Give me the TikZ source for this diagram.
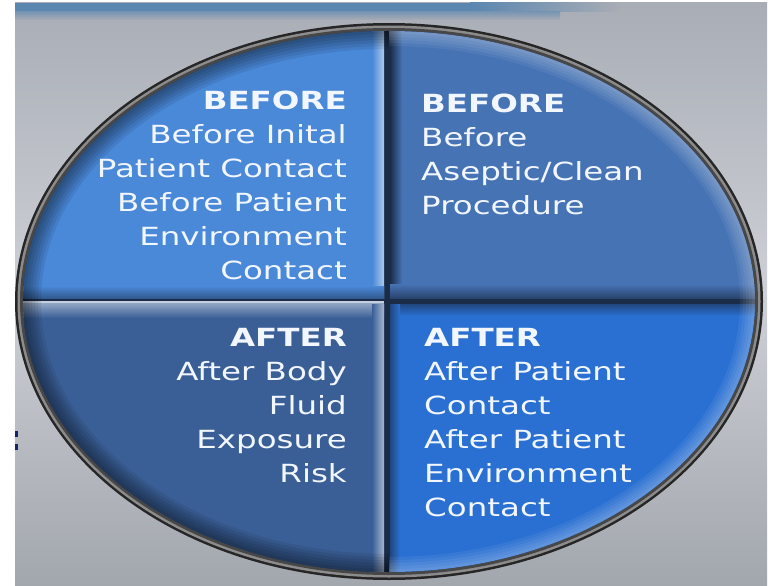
\documentclass[tikz,border=0pt]{standalone}
\usepackage{fontspec}
\setmainfont{DejaVu Sans}
\usepackage{graphicx}
\definecolor{bgtop}{HTML}{A9ADB5}
\definecolor{bgmid}{HTML}{CDD0D6}
\definecolor{bgbot}{HTML}{A2A6AD}
\definecolor{barblue}{HTML}{5A86B0}
\definecolor{qtl}{HTML}{4A88D8}
\definecolor{qtr}{HTML}{4673B4}
\definecolor{qbl}{HTML}{3A5F96}
\definecolor{qbr}{HTML}{2A70D2}
\definecolor{gapc}{HTML}{1A2C48}
\definecolor{txt}{HTML}{F2F6FF}
\tikzset{
  quadtext/.style={inner sep=0pt, text=txt, font=\fontsize{25}{34}\selectfont},
}
\newcommand{\qlines}[2]{\scalebox{1.3}[1]{\begin{tabular}[t]{@{}#1@{}}#2\end{tabular}}}
\begin{document}
\begin{tikzpicture}[x=1pt,y=-1pt]
\useasboundingbox (0,0) rectangle (771,586);
% background
\fill[white] (0,0) rectangle (771,586);
\shade[top color=bgtop, bottom color=bgbot, middle color=bgmid] (15,3) rectangle (767,586);
\fill[barblue] (15,3) rectangle (470,12);
\shade[left color=barblue, right color=bgtop] (470,3) rectangle (620,12);
\shade[top color=barblue!60!bgtop, bottom color=bgtop] (15,12) rectangle (560,20);
% colon fragment at left edge
\fill[gapc!80!blue] (15,431) rectangle (18,437);
\fill[gapc!80!blue] (15,444) rectangle (18,450);
% ring
\fill[black!85] (389,301.5) ellipse [x radius=374, y radius=278.5];
\fill[black!45] (389,301.5) ellipse [x radius=371.5, y radius=276];
\fill[black!72] (389,301.5) ellipse [x radius=369, y radius=273.5];
\fill[gapc] (389,301.5) ellipse [x radius=366, y radius=270.5];
\begin{scope}
  \clip (389,301.5) ellipse [x radius=366, y radius=270.5];
  % quadrants
  \fill[qtl] (0,0) rectangle (384,298);
  \fill[qtr] (390,0) rectangle (771,298);
  \fill[qbl] (0,304) rectangle (384,586);
  \fill[qbr] (390,304) rectangle (771,586);
  % divider highlights
  \shade[left color=qtl, right color=qtl!45!white] (372,0) rectangle (384,298);
  \shade[top color=qtl, bottom color=qtl!50!gapc] (0,286) rectangle (384,298);
  \shade[left color=gapc, right color=qtr] (390,0) rectangle (402,298);
  \shade[top color=qtr, bottom color=qtr!35!gapc] (390,284) rectangle (771,298);
  \fill[white!70!qbl] (0,301) rectangle (384,303);
  \shade[top color=qbl!55!white, bottom color=qbl] (0,303) rectangle (384,318);
  \shade[left color=qbl, right color=qbl!45!white] (372,304) rectangle (384,586);
  \shade[top color=qbr!40!gapc, bottom color=qbr] (390,304) rectangle (771,316);
  \shade[left color=qbr!40!gapc, right color=qbr] (390,304) rectangle (400,586);
  % rim vignette: dark on left, light on right
  \begin{scope}
    \clip (0,0) rectangle (389,586);
    \foreach \w in {6,12,18,24,30,36}
      \draw[black, opacity=0.08, line width=\w pt] (389,301.5) ellipse [x radius=366, y radius=270.5];
  \end{scope}
  \begin{scope}
    \clip (389,0) rectangle (771,586);
    \foreach \w in {6,12,18,24,30}
      \draw[white, opacity=0.06, line width=\w pt] (389,301.5) ellipse [x radius=366, y radius=270.5];
  \end{scope}
\end{scope}
% texts
\node[quadtext, anchor=base east] (tl) at (347,110)
  {\qlines{r}{\textbf{BEFORE}\\Before Inital\\Patient Contact\\Before Patient\\Environment\\Contact}};
\node[quadtext, anchor=base west] (tr) at (421,112)
  {\qlines{l}{\textbf{BEFORE}\\Before\\Aseptic/Clean\\Procedure}};
\node[quadtext, anchor=base east] (bl) at (347,346)
  {\qlines{r}{\textbf{AFTER}\\After Body\\Fluid\\Exposure\\Risk}};
\node[quadtext, anchor=base west] (br) at (424,346)
  {\qlines{l}{\textbf{AFTER}\\After Patient\\Contact\\After Patient\\Environment\\Contact}};
\end{tikzpicture}
\end{document}
